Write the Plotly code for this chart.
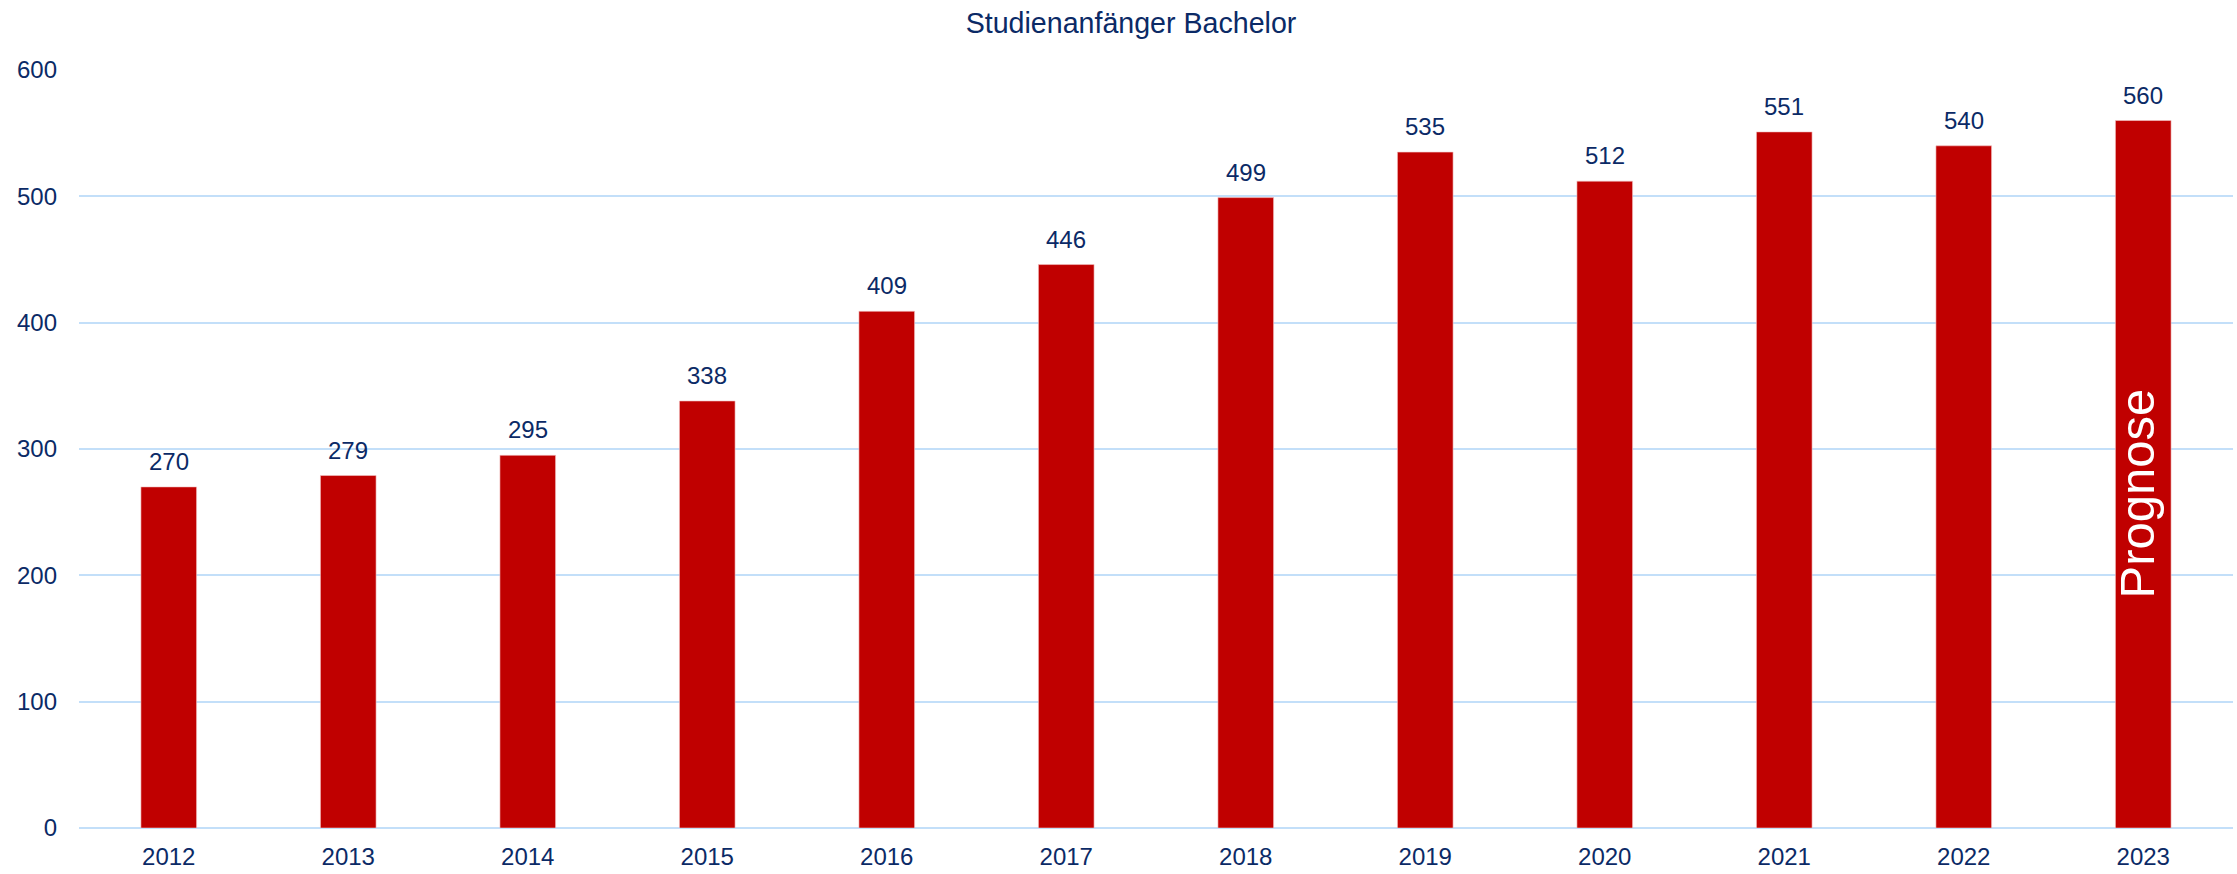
import plotly.graph_objects as go

years = ["2012", "2013", "2014", "2015", "2016", "2017", "2018", "2019", "2020", "2021", "2022", "2023"]
values = [270, 279, 295, 338, 409, 446, 499, 535, 512, 551, 540, 560]
title_text = "Studienanfänger Bachelor"
prognose_label = "Prognose"
prognose_year = "2023"
prognose_y = 265

NAVY = "#0b2a66"
RED = "#c00000"
GRID = "#c3dff9"
FONT = "Liberation Sans, Arial, sans-serif"

fig = go.Figure()
fig.add_trace(go.Bar(
    x=years, y=values,
    marker=dict(color=RED, line=dict(color="#f3c6c6", width=0.6)),
    width=0.31,
    hoverinfo="skip",
))

annotations = []
for i, v in enumerate(values):
    annotations.append(dict(
        x=i, y=v, xref="x", yref="y", text=str(v), showarrow=False,
        yanchor="bottom", yshift=10, font=dict(family=FONT, size=24, color=NAVY),
    ))
annotations.append(dict(
    x=years.index(prognose_year), y=prognose_y, xref="x", yref="y", text=prognose_label,
    showarrow=False, textangle=-90, xshift=-6,
    font=dict(family=FONT, size=49, color="white"),
))

fig.update_layout(
    width=2237, height=874,
    margin=dict(l=79, r=4, t=70, b=42),
    paper_bgcolor="white", plot_bgcolor="white",
    showlegend=False,
    title=dict(text=title_text, x=1131 / 2237, xref="container", xanchor="center",
               y=1 - 23 / 874, yref="container", yanchor="middle",
               font=dict(family=FONT, size=28.6, color=NAVY)),
    xaxis=dict(type="category", categoryorder="array", categoryarray=years,
               range=[-0.5, len(years) - 0.5],
               showgrid=False, showline=False, zeroline=False,
               ticks="", tickfont=dict(family=FONT, size=24, color=NAVY),
               ticklabelstandoff=12),
    yaxis=dict(range=[0, 600], dtick=100, showgrid=True, gridcolor=GRID, gridwidth=2,
               zeroline=True, zerolinecolor=GRID, zerolinewidth=2, showline=False,
               ticks="", tickfont=dict(family=FONT, size=24, color=NAVY),
               ticklabelstandoff=21),
    annotations=annotations,
)

fig.write_html("out.html", config={"displayModeBar": False, "staticPlot": True},
               post_script="document.body.style.margin='0';")
